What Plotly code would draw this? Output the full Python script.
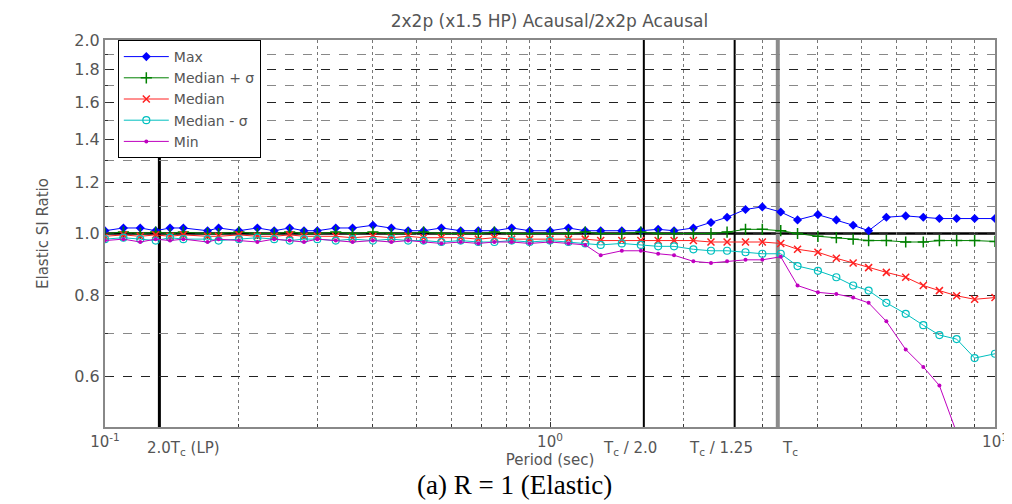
import plotly.graph_objects as go
import math

periods = [0.10, 0.11, 0.12, 0.13, 0.14, 0.15, 0.17, 0.18, 0.20, 0.22, 0.24, 0.26, 0.28,
           0.30, 0.33, 0.36, 0.40, 0.44, 0.48, 0.52, 0.57, 0.63, 0.69, 0.75, 0.82, 0.90,
           1.0, 1.1, 1.2, 1.3, 1.45, 1.6, 1.75, 1.9, 2.1, 2.3, 2.5, 2.75, 3.0, 3.3, 3.6,
           4.0, 4.4, 4.8, 5.2, 5.7, 6.3, 6.9, 7.5, 8.2, 9.0, 10.0]

max_vals = [1.01, 1.02, 1.02, 1.01, 1.02, 1.02, 1.01, 1.02, 1.01, 1.02, 1.01, 1.02, 1.01,
            1.01, 1.02, 1.02, 1.03, 1.02, 1.01, 1.01, 1.02, 1.01, 1.01, 1.01, 1.02, 1.01,
            1.01, 1.02, 1.01, 1.01, 1.01, 1.01, 1.015, 1.01, 1.02, 1.04, 1.06, 1.09, 1.10, 1.08, 1.05,
            1.07, 1.05, 1.03, 1.01, 1.06, 1.065, 1.06, 1.055, 1.055, 1.055, 1.055]

med_plus = [1.00, 1.005, 1.00, 1.005, 1.00, 1.005, 1.00, 1.00, 1.005, 1.00, 1.00, 1.005, 1.00,
            1.00, 1.005, 1.00, 1.005, 1.00, 1.00, 1.005, 1.00, 1.00, 1.00, 1.005, 1.00, 1.00,
            1.00, 1.00, 1.005, 1.00, 1.00, 1.005, 1.00, 1.00, 1.00, 1.00, 1.005, 1.015, 1.015, 1.01, 1.00,
            0.99, 0.985, 0.98, 0.975, 0.975, 0.97, 0.97, 0.975, 0.975, 0.975, 0.972]

median = [0.99, 0.995, 0.99, 0.995, 0.99, 0.995, 0.99, 0.99, 0.995, 0.99, 0.99, 0.995, 0.99,
          0.99, 0.99, 0.985, 0.99, 0.985, 0.99, 0.985, 0.985, 0.985, 0.98, 0.985, 0.98, 0.98,
          0.98, 0.98, 0.98, 0.975, 0.975, 0.975, 0.975, 0.975, 0.975, 0.97, 0.97, 0.97, 0.97, 0.965, 0.945,
          0.935, 0.915, 0.90, 0.885, 0.87, 0.855, 0.83, 0.815, 0.80, 0.79, 0.795]

med_minus = [0.98, 0.985, 0.98, 0.975, 0.985, 0.98, 0.98, 0.975, 0.98, 0.985, 0.98, 0.975, 0.98,
             0.98, 0.975, 0.98, 0.975, 0.98, 0.975, 0.975, 0.97, 0.975, 0.97, 0.97, 0.975, 0.97,
             0.975, 0.97, 0.965, 0.96, 0.965, 0.96, 0.955, 0.955, 0.945, 0.94, 0.94, 0.935, 0.93, 0.93, 0.89,
             0.875, 0.855, 0.83, 0.815, 0.78, 0.75, 0.72, 0.695, 0.685, 0.64, 0.65]

min_vals = [0.975, 0.98, 0.97, 0.98, 0.975, 0.98, 0.97, 0.98, 0.975, 0.97, 0.98, 0.975, 0.97,
            0.98, 0.975, 0.97, 0.975, 0.97, 0.975, 0.97, 0.965, 0.97, 0.965, 0.97, 0.97, 0.965,
            0.97, 0.965, 0.96, 0.925, 0.94, 0.94, 0.93, 0.925, 0.905, 0.90, 0.905, 0.91, 0.91, 0.92, 0.83,
            0.81, 0.805, 0.795, 0.78, 0.73, 0.66, 0.62, 0.58, 0.49, None, None]

y_ticks = [0.6, 0.8, 1.0, 1.2, 1.4, 1.6, 1.8, 2.0]
y_minor = [0.7, 0.9, 1.1, 1.3, 1.5, 1.7, 1.9]
x_ticks = [0.1, 1, 10]
x_tick_text = ["10<sup>-1</sup>", "10<sup>0</sup>", "10<sup>1</sup>"]
x_minor = [0.2, 0.3, 0.4, 0.5, 0.6, 0.7, 0.8, 0.9, 2, 3, 4, 5, 6, 7, 8, 9]

tc = 3.25
ref_lines = [("2.0T<sub>c</sub> (LP)", 0.1325, "black", 3, 24),
             ("T<sub>c</sub> / 2.0", tc / 2.0, "black", 2, -14),
             ("T<sub>c</sub> / 1.25", tc / 1.25, "black", 2, -14),
             ("T<sub>c</sub>", tc, "#8c8c8c", 4, 12)]

series = [
    ("Max", max_vals, "#0000ff", dict(symbol="diamond", size=7)),
    ("Median + \u03c3", med_plus, "#008000", dict(symbol="cross-thin", size=8, line=dict(width=1.5, color="#008000"))),
    ("Median", median, "#ff2020", dict(symbol="x-thin", size=7, line=dict(width=1.5, color="#ff2020"))),
    ("Median - \u03c3", med_minus, "#00bfbf", dict(symbol="circle-open", size=7, line=dict(width=1.2, color="#00bfbf"))),
    ("Min", min_vals, "#bf00bf", dict(symbol="circle", size=4)),
]

fig = go.Figure()
for name, vals, color, marker in series:
    m = dict(color=color, **marker)
    fig.add_trace(go.Scatter(x=periods, y=vals, name=name, mode="lines+markers",
                             line=dict(color=color, width=1), marker=m, connectgaps=False))

gray_font = dict(family="DejaVu Sans, Arial", color="#555555")

fig.update_layout(
    width=1012, height=504,
    margin=dict(l=97, r=14, t=32, b=85),
    paper_bgcolor="white", plot_bgcolor="white",
    showlegend=True,
    legend=dict(x=0.0144, y=1.0, xanchor="left", yanchor="top",
                bgcolor="white", bordercolor="black", borderwidth=1,
                font=dict(size=14, **gray_font), tracegroupgap=0,
                itemwidth=45),
    title=dict(text="2x2p (x1.5 HP) Acausal/2x2p Acausal", x=0.535, xanchor="center",
               y=0.985, yanchor="top", font=dict(size=17, **gray_font)),
)

fig.update_xaxes(type="log", range=[-1, 1], tickvals=x_ticks, ticktext=x_tick_text,
                 tickfont=dict(size=15, **gray_font), ticks="inside", ticklen=5,
                 tickcolor="#333", showline=True, linecolor="#888888", linewidth=2, mirror=True,
                 showgrid=True, gridcolor="#666666", griddash="dot", gridwidth=1,
                 minor=dict(tickvals=x_minor, showgrid=True, gridcolor="#777777",
                            griddash="dot", gridwidth=1, ticks="inside", ticklen=3, tickcolor="#333"),
                 title=dict(text="Period (sec)", font=dict(size=15, **gray_font), standoff=0),
                 zeroline=False)
fig.update_yaxes(type="log", range=[math.log10(0.5), math.log10(2.0)], tickvals=y_ticks,
                 ticktext=[f"{v:.1f}" for v in y_ticks],
                 tickfont=dict(size=16, **gray_font), ticks="inside", ticklen=5, tickcolor="#333",
                 showline=True, linecolor="#888888", linewidth=2, mirror=True,
                 showgrid=True, gridcolor="#222222", griddash="dash", gridwidth=1,
                 minor=dict(tickvals=y_minor, showgrid=True, gridcolor="#888888",
                            griddash="dash", gridwidth=1, ticks="inside", ticklen=3, tickcolor="#333"),
                 title=dict(text="Elastic SI Ratio", font=dict(size=15, **gray_font), standoff=22),
                 zeroline=False)

# horizontal reference at 1.0
fig.add_hline(y=1.0, line=dict(color="black", width=2.5), layer="below")

for label, xv, color, w, shift in ref_lines:
    fig.add_vline(x=xv, line=dict(color=color, width=w), layer="below")
    fig.add_annotation(x=math.log10(xv), xref="x", y=-0.025, yref="paper", text=label,
                       showarrow=False, yanchor="top", xshift=shift,
                       font=dict(size=15, **gray_font))

fig.add_annotation(x=0.46, xref="paper", y=-0.15, yref="paper",
                   text="(a) R = 1 (Elastic)", showarrow=False, yanchor="middle",
                   font=dict(family="Liberation Serif, Times New Roman", size=27, color="black"))

fig.write_html("out.html")
